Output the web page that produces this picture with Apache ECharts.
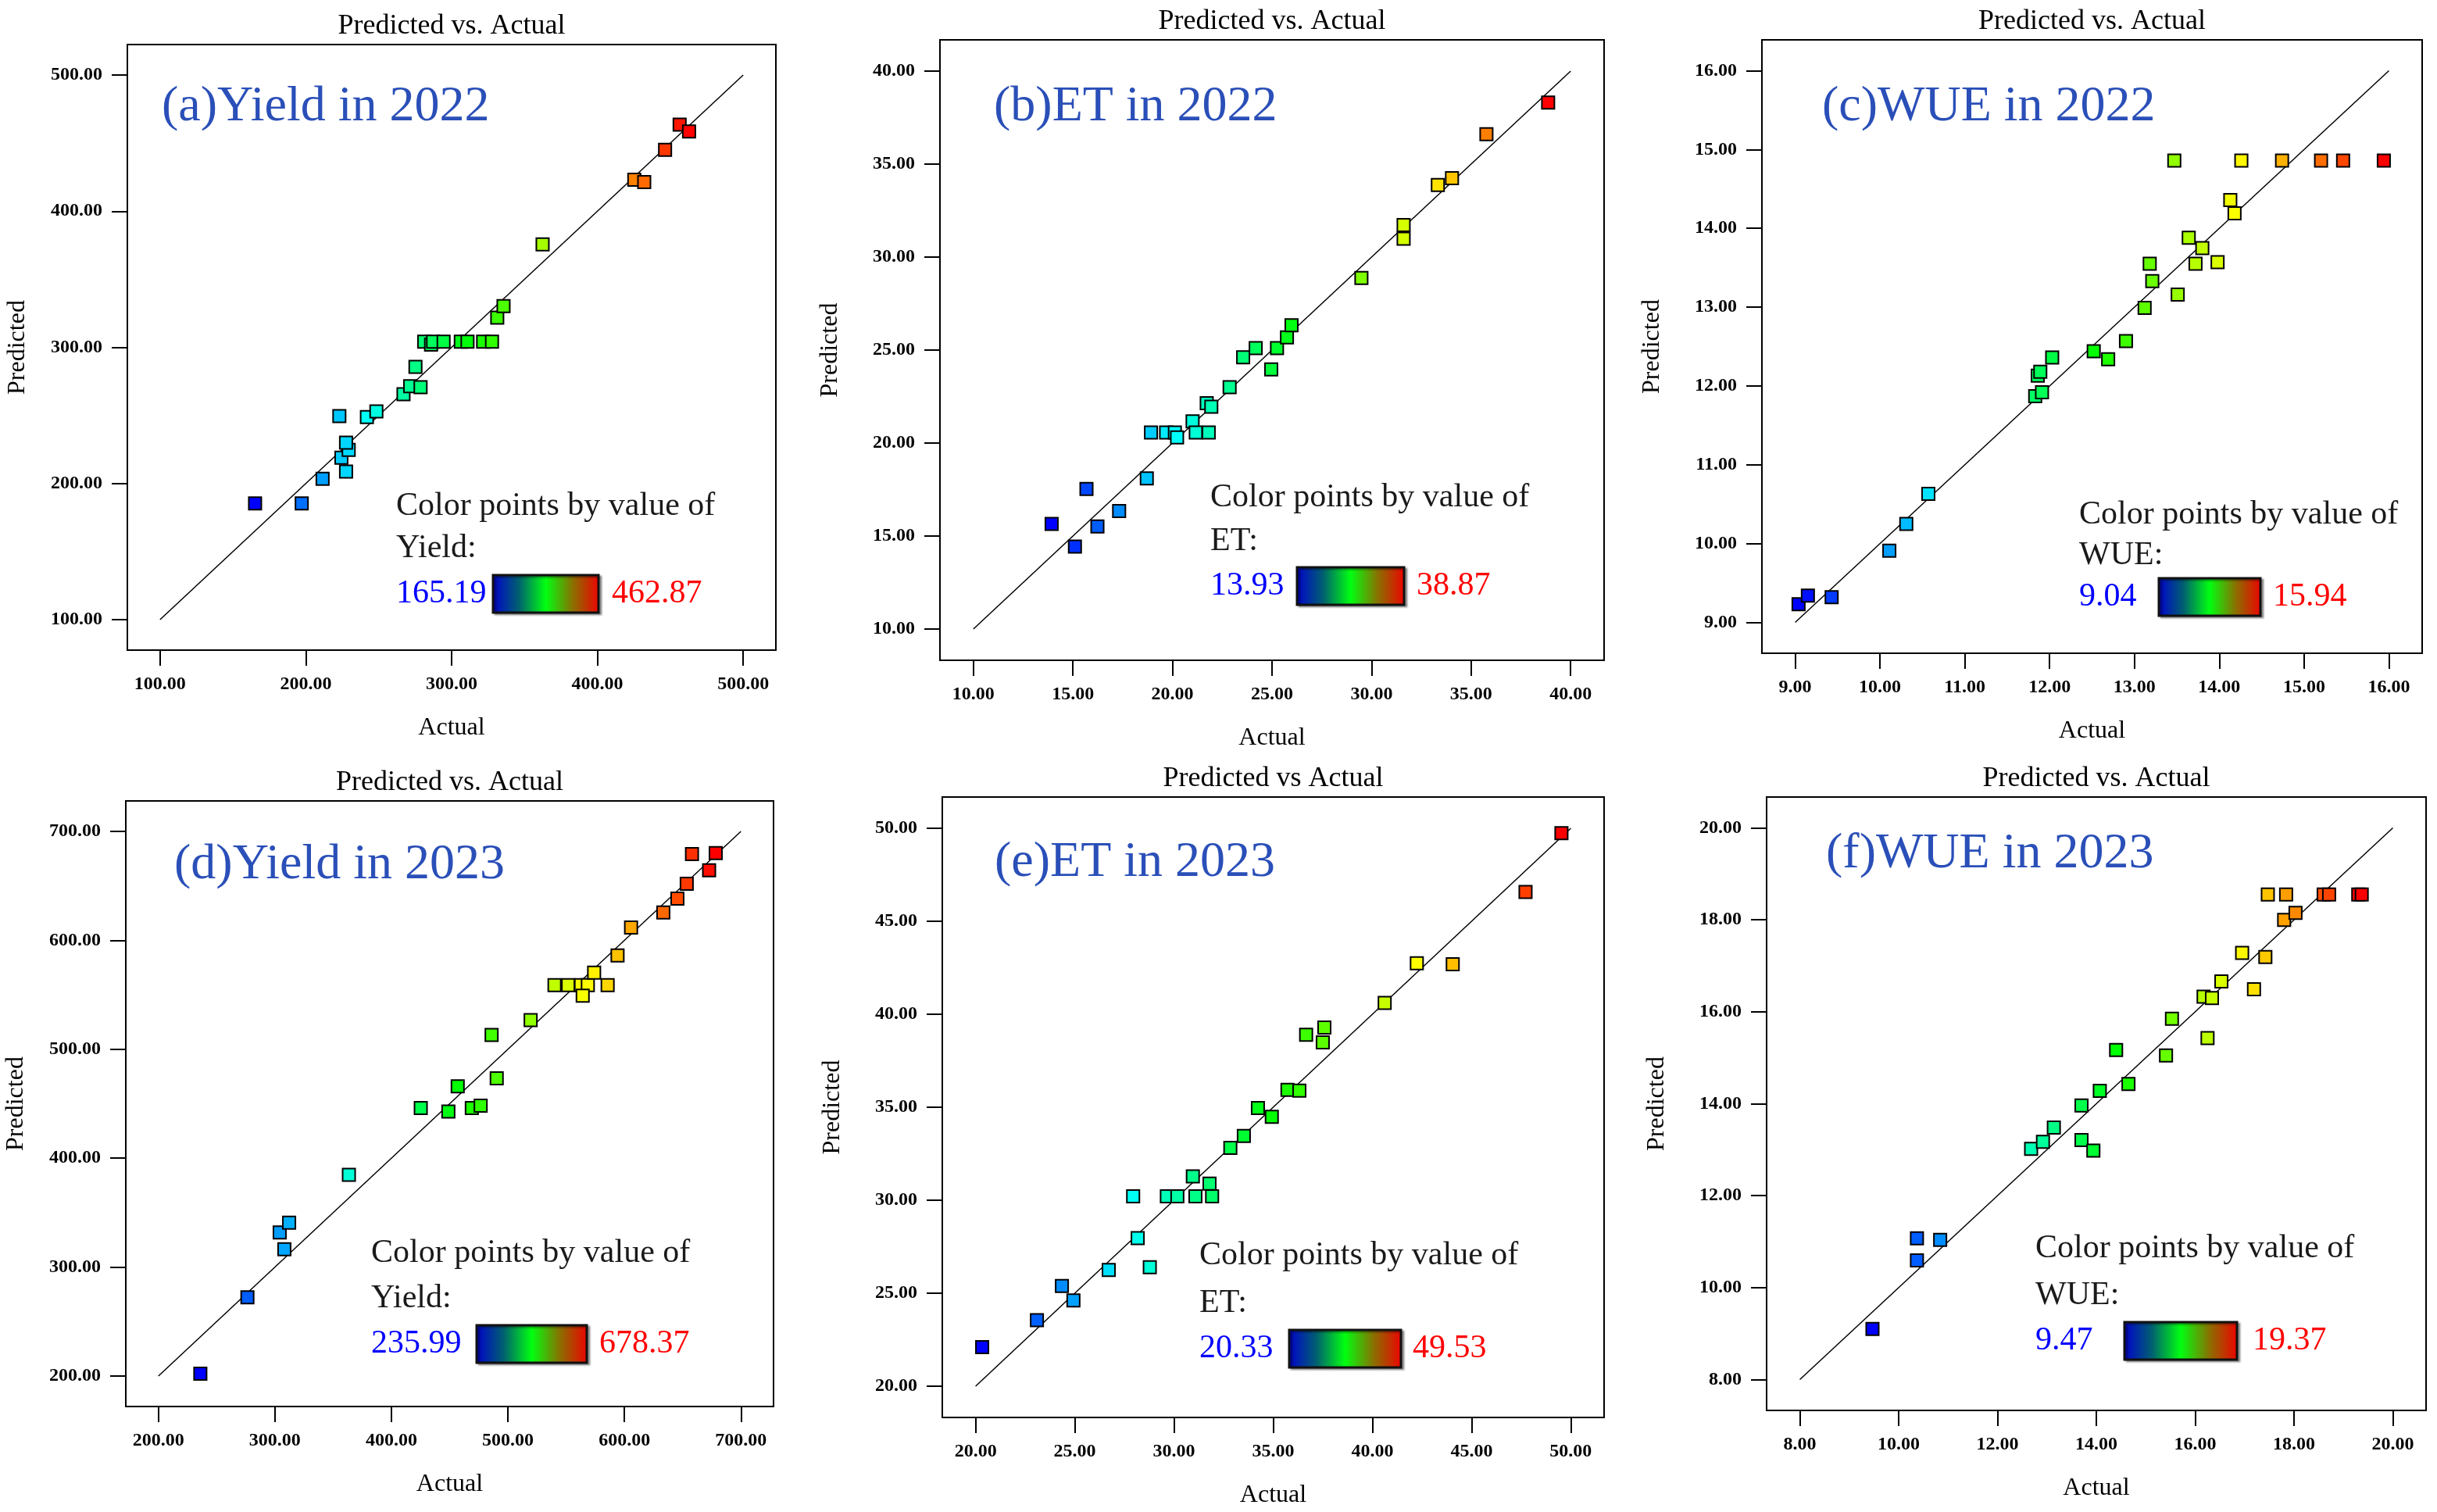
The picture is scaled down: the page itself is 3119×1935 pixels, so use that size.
<!DOCTYPE html>
<html style="height: 100%">
<head>
	<meta charset="utf-8">
</head>
<body style="height: 100%; margin: 0; background: #fff">
<div id="container" style="height: 100%"></div>
<script type="text/javascript" src="https://cdn.jsdelivr.net/npm/echarts@6/dist/echarts.min.js"></script>
<script type="text/javascript">
    // ---- data ----
    var yieldActual2022 = [165.19, 197.2, 211.5, 227.6, 224.4, 229.4, 227.6, 223.0, 241.9, 248.4, 267.0, 271.6, 278.7, 275.2,
        281.2, 285.9, 287.3, 294.5, 306.3, 310.9, 321.6, 327.7, 331.3, 335.6, 362.4, 425.3, 432.1, 446.4, 456.4, 462.87];
    var yieldPred2022 = [185.4, 185.4, 203.5, 208.8, 219.0, 224.7, 230.0, 249.5, 248.8, 253.0, 265.5, 271.5, 270.8, 285.7,
        304.1, 302.0, 304.1, 304.1, 304.1, 304.1, 304.1, 304.1, 321.8, 330.3, 375.6, 423.1, 421.4, 445.1, 463.5, 458.6];

    var etActual2022 = [13.93, 15.10, 15.68, 16.23, 17.32, 18.71, 18.92, 19.68, 20.12, 20.23, 21.01, 21.17, 21.82, 21.72, 21.95,
        22.87, 23.55, 24.18, 24.96, 25.25, 25.75, 25.98, 29.49, 31.61, 31.61, 33.33, 34.04, 35.77, 38.87];
    var etPred2022 = [15.65, 14.43, 17.53, 15.52, 16.35, 18.10, 20.57, 20.57, 20.57, 20.31, 21.17, 20.57, 20.57, 22.14, 21.95,
        23.00, 24.61, 25.10, 23.96, 25.10, 25.68, 26.33, 28.88, 30.99, 31.72, 33.88, 34.24, 36.61, 38.31];

    var wueActual2022 = [9.04, 9.15, 9.43, 10.11, 10.31, 10.57, 11.83, 11.91, 11.86, 11.89, 12.03, 12.52, 12.69, 12.90, 13.12,
        13.18, 13.21, 13.51, 13.64, 13.72, 13.80, 13.98, 14.13, 14.18, 13.47, 14.26, 14.74, 15.20, 15.46, 15.94];
    var wuePred2022 = [9.23, 9.34, 9.32, 9.91, 10.25, 10.63, 11.87, 11.92, 12.13, 12.18, 12.36, 12.44, 12.34, 12.57, 12.99,
        13.55, 13.33, 13.16, 13.88, 13.55, 13.75, 13.57, 14.36, 14.19, 14.86, 14.86, 14.86, 14.86, 14.86, 14.86];

    var yieldActual2023 = [235.99, 276.4, 304.1, 312.2, 308.1, 363.5, 425.2, 448.9, 456.9, 469.0, 476.6, 486.0, 490.4, 519.5,
        540.0, 551.7, 562.8, 568.6, 564.2, 574.0, 585.6, 594.1, 605.7, 633.4, 645.5, 653.5, 658.0, 672.7, 678.37];
    var yieldPred2023 = [202.2, 272.3, 331.8, 340.7, 316.4, 384.7, 446.0, 442.9, 465.9, 446.0, 448.2, 513.1, 473.4, 526.7,
        558.9, 558.9, 558.9, 558.9, 549.2, 570.4, 558.9, 586.2, 611.8, 625.5, 638.3, 651.9, 679.3, 664.3, 680.2];

    var etActual2023 = [20.33, 23.09, 24.35, 24.93, 26.71, 27.94, 28.17, 28.78, 29.64, 30.17, 30.95, 31.08, 31.79, 31.92,
        32.84, 33.52, 34.23, 34.93, 35.72, 36.32, 36.66, 37.50, 37.58, 40.62, 42.24, 44.05, 47.72, 49.53];
    var etPred2023 = [22.10, 23.55, 25.39, 24.61, 26.25, 30.21, 27.96, 26.40, 30.21, 30.21, 31.28, 30.21, 30.89, 30.21,
        32.81, 33.46, 34.96, 34.49, 35.94, 35.89, 38.90, 38.49, 39.29, 40.61, 42.74, 42.69, 46.57, 49.74];

    var wueActual2023 = [9.47, 10.37, 10.37, 10.84, 12.68, 12.92, 13.14, 13.70, 13.70, 13.94, 14.07, 14.40, 14.65, 15.41, 15.53,
        16.17, 16.25, 16.34, 16.53, 16.95, 17.19, 17.42, 17.47, 17.80, 17.84, 18.03, 18.60, 18.71, 19.30, 19.37];
    var wuePred2023 = [9.10, 11.07, 10.59, 11.04, 13.02, 13.17, 13.48, 13.96, 13.21, 12.98, 14.28, 15.17, 14.43, 15.05, 15.85,
        16.33, 15.43, 16.30, 16.66, 17.28, 16.49, 17.19, 18.55, 18.00, 18.55, 18.15, 18.55, 18.55, 18.55, 18.55];

    // tick labels of each panel (same on both axes)
    var ticksYield2022 = [100, 200, 300, 400, 500];
    var ticksEt2022 = [10, 15, 20, 25, 30, 35, 40];
    var ticksWue2022 = [9, 10, 11, 12, 13, 14, 15, 16];
    var ticksYield2023 = [200, 300, 400, 500, 600, 700];
    var ticksEt2023 = [20, 25, 30, 35, 40, 45, 50];
    var ticksWue2023 = [8, 10, 12, 14, 16, 18, 20];

    var panelLabels = ['(a)Yield in 2022', '(b)ET in 2022', '(c)WUE in 2022',
        '(d)Yield in 2023', '(e)ET in 2023', '(f)WUE in 2023'];
    var variableNames = ['Yield', 'ET', 'WUE', 'Yield', 'ET', 'WUE'];
    var panelTitles = ['Predicted vs. Actual', 'Predicted vs. Actual', 'Predicted vs. Actual',
        'Predicted vs. Actual', 'Predicted vs Actual', 'Predicted vs. Actual'];

    // ---- layout (pixels) ----
    // plot box: left, top, width, height
    var boxes = [
        [163, 57, 830, 775], [1203, 51, 850, 794], [2255, 51, 845, 785],
        [161, 1025, 829, 775], [1206, 1020, 847, 794], [2261, 1020, 844, 785]
    ];
    // label position: x, y centre
    var labelPos = [[207, 137], [1272, 137], [2332, 137], [223, 1107], [1273, 1104], [2337, 1093]];
    // colour key: text x, line1 y, line2 y, line3 y, bar x0, bar x1, max text x
    var keyPos = [
        [507, 648, 702, 760, 631, 766, 783],
        [1549, 637, 693, 750, 1660, 1797, 1813],
        [2661, 659, 711, 764, 2763, 2893, 2909],
        [475, 1604, 1662, 1720, 610, 751, 767],
        [1535, 1607, 1668, 1726, 1650, 1793, 1808],
        [2605, 1598, 1658, 1716, 2719, 2863, 2883]
    ];

    var panels = [
        [yieldActual2022, yieldPred2022, ticksYield2022],
        [etActual2022, etPred2022, ticksEt2022],
        [wueActual2022, wuePred2022, ticksWue2022],
        [yieldActual2023, yieldPred2023, ticksYield2023],
        [etActual2023, etPred2023, ticksEt2023],
        [wueActual2023, wuePred2023, ticksWue2023]
    ];

    var serif = '"Liberation Serif", "Times New Roman", serif';
    var rainbow = ['#0000ff', '#00ffff', '#00ff00', '#ffff00', '#ff0000'];

    var dom = document.getElementById("container");
    var myChart = echarts.init(dom);

    var grid = [], xAxis = [], yAxis = [], series = [], visualMap = [], graphic = [];

    function makeAxis(i, ticks, name, isX) {
        var lo = ticks[0], hi = ticks[ticks.length - 1], pad = (hi - lo) * 0.056;
        return {
            type: 'value',
            gridIndex: i,
            min: lo - pad,
            max: hi + pad,
            name: name,
            nameLocation: 'middle',
            nameGap: isX ? 84 : 124,
            nameTextStyle: {fontFamily: serif, fontSize: 32, color: '#000'},
            axisLine: {show: true, onZero: false, lineStyle: {color: '#000', width: 2}},
            axisTick: {show: true, inside: false, length: 20, customValues: ticks,
                lineStyle: {color: '#000', width: 2}},
            axisLabel: {show: true, margin: 32, customValues: ticks,
                fontFamily: serif, fontSize: 24, fontWeight: 'bold', color: '#000',
                formatter: function (v) { return v.toFixed(2); }},
            splitLine: {show: false}
        };
    }

    panels.forEach(function (p, i) {
        var actual = p[0], pred = p[1], ticks = p[2];
        var b = boxes[i];
        var lo = ticks[0], hi = ticks[ticks.length - 1];
        var minA = Math.min.apply(null, actual), maxA = Math.max.apply(null, actual);

        grid.push({left: b[0], top: b[1], width: b[2], height: b[3],
            show: true, borderColor: '#000', borderWidth: 2, backgroundColor: '#fff'});
        xAxis.push(makeAxis(i, ticks, 'Actual', true));
        yAxis.push(makeAxis(i, ticks, 'Predicted', false));

        series.push({
            type: 'scatter',
            xAxisIndex: i,
            yAxisIndex: i,
            symbol: 'rect',
            symbolSize: 16,
            itemStyle: {borderColor: '#000', borderWidth: 2, opacity: 1},
            data: actual.map(function (a, k) { return [a, pred[k]]; }),
            z: 3
        });
        series.push({
            type: 'line',
            xAxisIndex: i,
            yAxisIndex: i,
            symbol: 'none',
            silent: true,
            lineStyle: {color: '#000', width: 1.5},
            data: [[lo, lo], [hi, hi]],
            z: 2
        });
        visualMap.push({
            type: 'continuous',
            show: false,
            seriesIndex: 2 * i,
            dimension: 0,
            min: minA,
            max: maxA,
            inRange: {color: rainbow}
        });

        // title above the box
        graphic.push({type: 'text', z: 10, style: {
            text: panelTitles[i], x: b[0] + b[2] / 2, y: b[1] - 23,
            font: '36px ' + serif, fill: '#000',
            textAlign: 'center', textVerticalAlign: 'middle', verticalAlign: 'middle'}});
        // panel label
        graphic.push({type: 'text', z: 10, style: {
            text: panelLabels[i], x: labelPos[i][0], y: labelPos[i][1],
            font: '64px ' + serif, fill: '#2a4fb8',
            textAlign: 'left', textVerticalAlign: 'middle', verticalAlign: 'middle'}});

        // colour key
        var k = keyPos[i];
        graphic.push({type: 'text', z: 10, style: {
            text: 'Color points by value of', x: k[0], y: k[1],
            font: '42px ' + serif, fill: '#1a1a1a',
            textAlign: 'left', textVerticalAlign: 'middle', verticalAlign: 'middle'}});
        graphic.push({type: 'text', z: 10, style: {
            text: variableNames[i] + ':', x: k[0], y: k[2],
            font: '42px ' + serif, fill: '#1a1a1a',
            textAlign: 'left', textVerticalAlign: 'middle', verticalAlign: 'middle'}});
        graphic.push({type: 'text', z: 10, style: {
            text: minA.toFixed(2), x: k[0], y: k[3],
            font: '42px ' + serif, fill: '#0000ff',
            textAlign: 'left', textVerticalAlign: 'middle', verticalAlign: 'middle'}});
        graphic.push({type: 'rect', z: 10,
            shape: {x: k[4], y: k[3] - 24, width: k[5] - k[4], height: 48},
            style: {
                fill: new echarts.graphic.LinearGradient(0, 0, 1, 0, [
                    {offset: 0, color: '#0000d0'},
                    {offset: 0.25, color: '#006070'},
                    {offset: 0.5, color: '#00ff10'},
                    {offset: 0.75, color: '#8a7000'},
                    {offset: 1, color: '#f00000'}
                ]),
                stroke: '#111', lineWidth: 3,
                shadowColor: 'rgba(0,0,0,0.35)', shadowOffsetX: 3, shadowOffsetY: 2, shadowBlur: 2
            }});
        graphic.push({type: 'text', z: 10, style: {
            text: maxA.toFixed(2), x: k[6], y: k[3],
            font: '42px ' + serif, fill: '#ff0000',
            textAlign: 'left', textVerticalAlign: 'middle', verticalAlign: 'middle'}});
    });

    var option = {
        backgroundColor: '#fff',
        animation: false,
        grid: grid,
        xAxis: xAxis,
        yAxis: yAxis,
        visualMap: visualMap,
        series: series,
        graphic: graphic
    };

    myChart.setOption(option);

    window.addEventListener('resize', function () {
        myChart.resize();
    });
</script>
</body>
</html>
